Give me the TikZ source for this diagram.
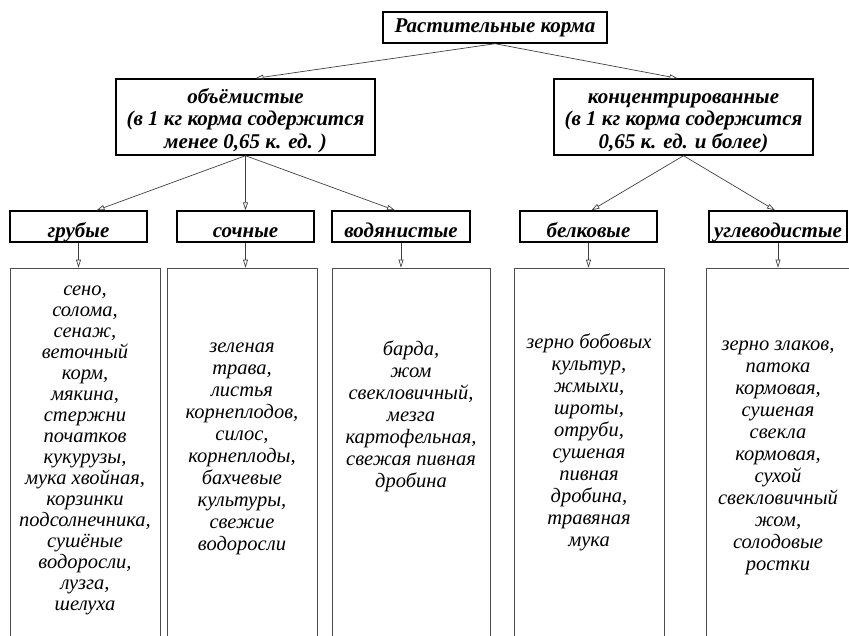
\documentclass[tikz,border=0pt]{standalone}
\usepackage{fontspec}
\setmainfont{Liberation Serif}
\usetikzlibrary{arrows.meta,calc}
\begin{document}
\begin{tikzpicture}[x=1pt,y=-1pt,
  hdr/.style={draw=black,line width=1.4pt,rectangle,inner sep=0pt,align=center,
    font=\fontsize{21}{22.5}\selectfont\bfseries\itshape},
  small/.style={minimum height=31pt,text height=25pt,text depth=4pt},
  big/.style={minimum width=259pt,minimum height=76pt},
  lowbox/.style={draw=black!70,line width=0.8pt,rectangle,inner sep=0pt},
  lowtxt/.style={align=center,inner sep=0pt,font=\fontsize{20.5}{22}\selectfont\itshape},
  arr/.style={draw=black!75,line width=0.7pt,-{Triangle[open,length=8pt,width=5pt]}}]
\useasboundingbox (0,0) rectangle (849,635);
% top
\node[hdr,minimum width=224pt,minimum height=31pt] (top) at (495,27.5) {Растительные корма};
\node[hdr,big] (ml) at (245.5,117)
  {\rule{0pt}{22pt}объёмистые\\(в 1 кг корма содержится\\менее 0,65 к. ед. )};
\node[hdr,big] (mr) at (683.5,117)
  {\rule{0pt}{22pt}концентрированные\\(в 1 кг корма содержится\\0,65 к. ед. и более)};
% third level
\node[hdr,small,minimum width=137pt] (gr) at (78.5,226.5) {грубые};
\node[hdr,small,minimum width=137pt] (so) at (245.5,226.5) {сочные};
\node[hdr,small,minimum width=138pt] (vo) at (401,226.5) {водянистые};
\node[hdr,small,minimum width=137pt] (be) at (588.5,226.5) {белковые};
\node[hdr,small,minimum width=138pt] (ug) at (778,226.5) {углеводистые};
% lower boxes
\node[lowbox,minimum width=150pt,minimum height=400pt] (b1) at (85,468) {};
\node[lowbox,minimum width=150pt,minimum height=400pt] (b2) at (242,468) {};
\node[lowbox,minimum width=158pt,minimum height=400pt] (b3) at (411,468) {};
\node[lowbox,minimum width=150pt,minimum height=400pt] (b4) at (589,468) {};
\node[lowbox,minimum width=180pt,minimum height=400pt] (b5) at (796,468) {};
% texts
\node[lowtxt,font=\fontsize{20.5}{21}\selectfont\itshape] (t1) at (85,450) {сено,\\солома,\\сенаж,\\веточный\\корм,\\мякина,\\стержни\\початков\\кукурузы,\\мука хвойная,\\корзинки\\подсолнечника,\\сушёные\\водоросли,\\лузга,\\шелуха};
\node[lowtxt] (t2) at (242,448.5) {зеленая\\трава,\\листья\\корнеплодов,\\силос,\\корнеплоды,\\бахчевые\\культуры,\\свежие\\водоросли};
\node[lowtxt] (t3) at (411,416) {барда,\\жом\\свекловичный,\\мезга\\картофельная,\\свежая пивная\\дробина};
\node[lowtxt] (t4) at (589,442.5) {зерно бобовых\\культур,\\жмыхи,\\шроты,\\отруби,\\сушеная\\пивная\\дробина,\\травяная\\мука};
\node[lowtxt] (t5) at (778,458) {зерно злаков,\\патока\\кормовая,\\сушеная\\свекла\\кормовая,\\сухой\\свекловичный\\жом,\\солодовые\\ростки};
% arrows
\draw[arr] (top.south) -- ([xshift=10pt]ml.north);
\draw[arr] (top.south) -- ([xshift=-6pt]mr.north);
\draw[arr] (ml.south) -- ([xshift=18pt]gr.north);
\draw[arr] (ml.south) -- (so.north);
\draw[arr] (ml.south) -- ([xshift=-6pt]vo.north);
\draw[arr] (mr.south) -- ([xshift=3pt]be.north);
\draw[arr] (mr.south) -- ([xshift=-3pt]ug.north);
\draw[arr] (gr.south) -- (gr.south |- b1.north);
\draw[arr] (so.south) -- (so.south |- b2.north);
\draw[arr] (vo.south) -- (vo.south |- b3.north);
\draw[arr] (be.south) -- (be.south |- b4.north);
\draw[arr] (ug.south) -- (ug.south |- b5.north);
\end{tikzpicture}
\end{document}
